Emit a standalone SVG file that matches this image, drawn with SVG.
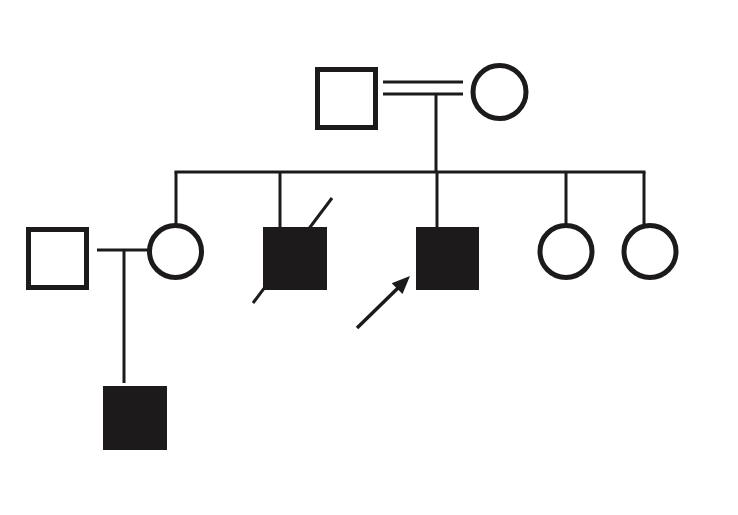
<svg xmlns="http://www.w3.org/2000/svg" width="738" height="515" viewBox="0 0 738 515">
  <style>
    .line { stroke: #1c1a1b; stroke-width: 3; fill: none; }
    .open { fill: #ffffff; stroke: #1c1a1b; stroke-width: 5; }
    .filled { fill: #1c1a1b; stroke: none; }
  </style>
  <rect x="0" y="0" width="738" height="515" fill="#ffffff"/>
  <g id="connectors">
    <line class="line" x1="383" y1="82" x2="463" y2="82"/>
    <line class="line" x1="383" y1="94" x2="463" y2="94"/>
    <line class="line" x1="436" y1="94" x2="436" y2="172"/>
    <line class="line" x1="174.5" y1="172" x2="645.5" y2="172"/>
    <line class="line" x1="176" y1="172" x2="176" y2="224"/>
    <line class="line" x1="280" y1="172" x2="280" y2="227"/>
    <line class="line" x1="437" y1="172" x2="437" y2="227"/>
    <line class="line" x1="566" y1="172" x2="566" y2="224"/>
    <line class="line" x1="644" y1="172" x2="644" y2="224"/>
    <line class="line" x1="97" y1="250" x2="149" y2="250"/>
    <line class="line" x1="124" y1="250" x2="124" y2="383"/>
    <line class="line" x1="253" y1="303" x2="332" y2="198"/>
    <line class="line" x1="357" y1="328" x2="398" y2="288" style="stroke-width:3.5"/>
    <polygon fill="#1c1a1b" points="410,276 402.5,294 391.7,283.2"/>
  </g>
  <g id="father">
    <rect class="open" x="317.5" y="69.5" width="58" height="58"/>
  </g>
  <g id="mother">
    <circle class="open" cx="499.5" cy="92" r="26.5"/>
  </g>
  <g id="spouse">
    <rect class="open" x="28.5" y="229.5" width="58" height="58"/>
  </g>
  <g id="daughter1">
    <circle class="open" cx="175.5" cy="251.5" r="26"/>
  </g>
  <g id="son-deceased">
    <rect class="filled" x="263" y="227" width="64" height="63"/>
  </g>
  <g id="proband">
    <rect class="filled" x="416" y="227" width="63" height="63"/>
  </g>
  <g id="daughter2">
    <circle class="open" cx="566" cy="251.5" r="26"/>
  </g>
  <g id="daughter3">
    <circle class="open" cx="650" cy="251.5" r="26"/>
  </g>
  <g id="grandson">
    <rect class="filled" x="103" y="386" width="64" height="64"/>
  </g>
</svg>
